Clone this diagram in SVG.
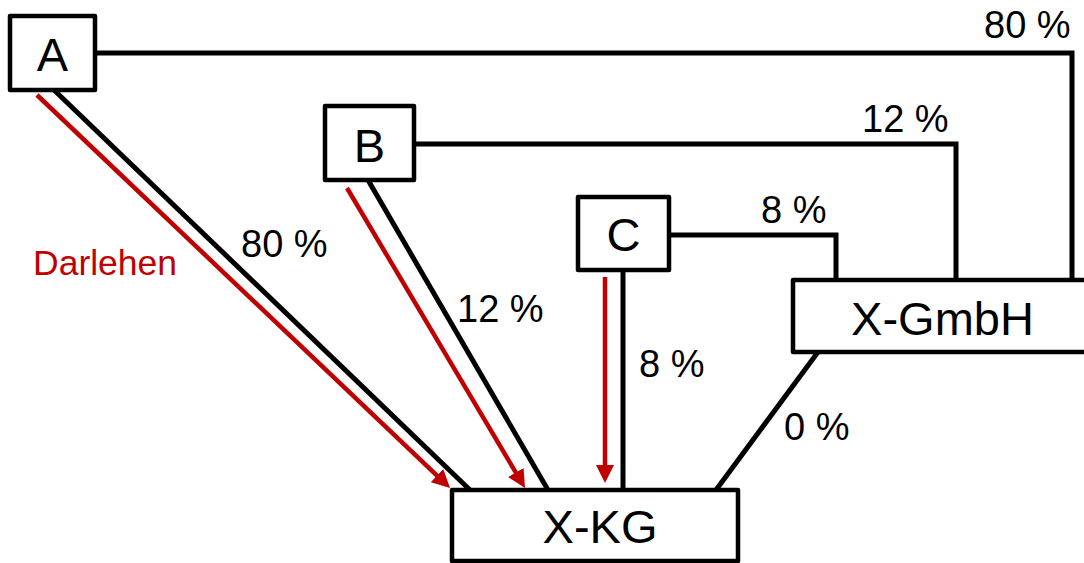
<svg xmlns="http://www.w3.org/2000/svg" width="1084" height="563" viewBox="0 0 1084 563">
<style>
.box{fill:#fff;stroke:#000;stroke-width:4.5;stroke-linejoin:round}
.ln{fill:none;stroke:#000;stroke-width:5;stroke-linejoin:miter}
.red{fill:none;stroke:#c00000;stroke-width:4.5}
.nt{font-family:"Liberation Sans",Arial,sans-serif;font-size:47px;fill:#000;text-anchor:middle}
.pct{font-family:"Liberation Sans",Arial,sans-serif;font-size:38px;fill:#000}
.dl{font-family:"Liberation Sans",Arial,sans-serif;font-size:35.5px;fill:#c00000}
</style>
<defs>
<marker id="ah" markerUnits="userSpaceOnUse" markerWidth="18" markerHeight="18" refX="8" refY="9" orient="auto">
<path d="M0,0 L18,9 L0,18 z" fill="#c00000"/>
</marker>
</defs>
<g id="connectors">
<polyline class="ln" points="95,53 1072,53 1072,280"/>
<polyline class="ln" points="414,144 956,144 956,280"/>
<polyline class="ln" points="669,235 836,235 836,280"/>
<line class="ln" x1="54" y1="90" x2="470" y2="490"/>
<line class="ln" x1="368" y1="180" x2="548" y2="490"/>
<line class="ln" x1="623" y1="270" x2="623" y2="490"/>
<line class="ln" x1="818" y1="352" x2="716" y2="490"/>
<line class="red" x1="37" y1="95" x2="442.8" y2="481.1" marker-end="url(#ah)"/>
<line class="red" x1="347" y1="188" x2="519.9" y2="479.4" marker-end="url(#ah)"/>
<line class="red" x1="605" y1="277" x2="605" y2="473" marker-end="url(#ah)"/>
<text class="pct" x="984" y="38">80 %</text>
<text class="pct" x="862" y="132">12 %</text>
<text class="pct" x="761" y="223">8 %</text>
<text class="pct" x="241" y="257">80 %</text>
<text class="pct" x="457" y="322">12 %</text>
<text class="pct" x="639" y="377">8 %</text>
<text class="pct" x="784" y="440">0 %</text>
<text class="dl" x="33" y="275">Darlehen</text>
</g>
<g id="node-A">
<rect class="box" x="10" y="16" width="85" height="74"/>
<text class="nt" x="52.5" y="71">A</text>
</g>
<g id="node-B">
<rect class="box" x="325" y="106" width="89" height="74"/>
<text class="nt" x="369.5" y="162">B</text>
</g>
<g id="node-C">
<rect class="box" x="578" y="197" width="91" height="73"/>
<text class="nt" x="623.5" y="251">C</text>
</g>
<g id="node-XGmbH">
<rect class="box" x="793" y="280" width="300" height="72"/>
<text class="nt" x="942.5" y="335">X-GmbH</text>
</g>
<g id="node-XKG">
<rect class="box" x="452" y="490" width="286" height="71"/>
<text class="nt" x="600" y="543">X-KG</text>
</g>
</svg>
